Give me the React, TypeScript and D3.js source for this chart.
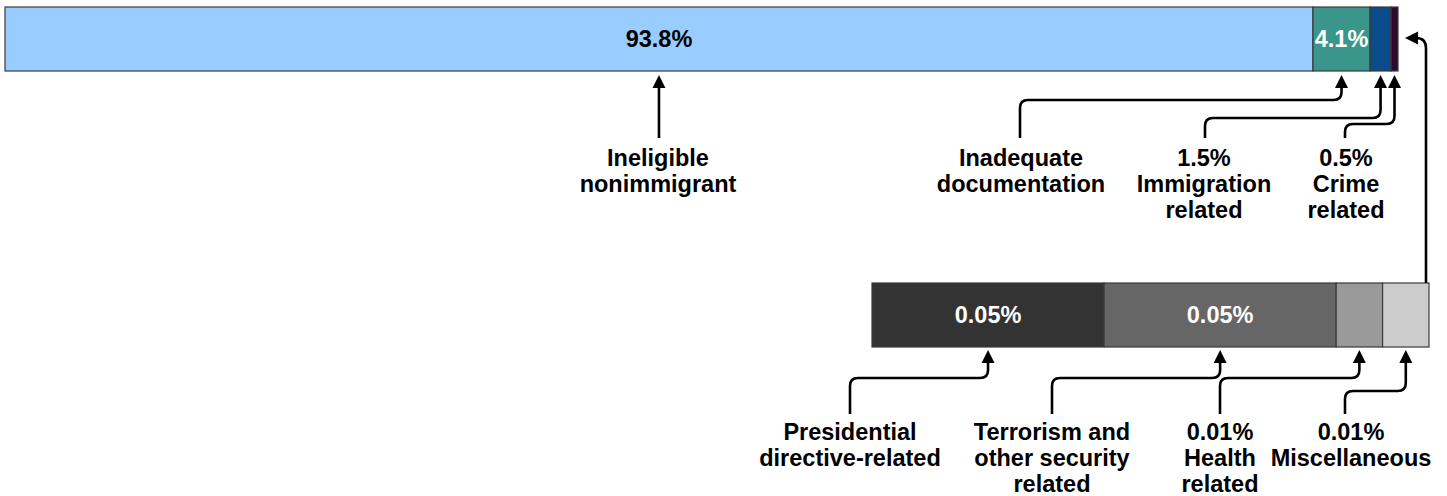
import React from "react";
import * as d3 from "d3";

// main bar: share of refusals by category (%)
const topCategories = ["Ineligible nonimmigrant", "Inadequate documentation", "Immigration related", "Crime related"];
const topValues = [93.8, 4.1, 1.5, 0.5];
const topColors = ["#99ccff", "#3a968a", "#0a4b8b", "#2e0a30"];
const topInBarLabels = ["93.8%", "4.1%", "", ""];

// breakdown bar: the remaining small categories (%)
const subCategories = ["Presidential directive-related", "Terrorism and other security related", "Health related", "Miscellaneous"];
const subValues = [0.05, 0.05, 0.01, 0.01];
const subColors = ["#333333", "#666666", "#999999", "#cccccc"];
const subInBarLabels = ["0.05%", "0.05%", "", ""];

// callout label lines
const topLabelLines = [
  ["Ineligible", "nonimmigrant"],
  ["Inadequate", "documentation"],
  ["1.5%", "Immigration", "related"],
  ["0.5%", "Crime", "related"],
];
const subLabelLines = [
  ["Presidential", "directive-related"],
  ["Terrorism and", "other security", "related"],
  ["0.01%", "Health", "related"],
  ["0.01%", "Miscellaneous"],
];

const W = 1447;
const H = 496;
const FONT = "'Liberation Sans', Arial, sans-serif";

const topBar = { x0: 5, x1: 1398, y: 7, h: 64 };
const subBar = { x0: 872, x1: 1429, y: 283, h: 64 };

// label layout: text center x, connector start x, elbow y
const topCallouts = [
  { cx: 658, sx: null as number | null, ym: 0 },
  { cx: 1021, sx: 1020, ym: 100 },
  { cx: 1204, sx: 1205, ym: 118 },
  { cx: 1346, sx: 1345, ym: 124 },
];
const subCallouts = [
  { cx: 850, sx: 850, ym: 378 },
  { cx: 1052, sx: 1052, ym: 378 },
  { cx: 1220, sx: 1220, ym: 378 },
  { cx: 1351, sx: 1345, ym: 391 },
];

const ARROW = 12;
const R = 8;

function elbow(sx: number, sy: number, ym: number, tx: number, ty: number) {
  const p = d3.path();
  const dir = tx >= sx ? 1 : -1;
  p.moveTo(sx, sy);
  if (Math.abs(tx - sx) < 1) {
    p.lineTo(sx, ty + ARROW);
    return p.toString();
  }
  p.lineTo(sx, ym + R);
  p.quadraticCurveTo(sx, ym, sx + dir * R, ym);
  p.lineTo(tx - dir * R, ym);
  p.quadraticCurveTo(tx, ym, tx, ym - R);
  p.lineTo(tx, ty + ARROW);
  return p.toString();
}

function upHead(x: number, y: number) {
  return `M${x},${y}L${x - 6.5},${y + ARROW + 1}L${x + 6.5},${y + ARROW + 1}Z`;
}

function stack(values: number[]) {
  let acc = 0;
  return values.map((v) => {
    const s = acc;
    acc += v;
    return [s, acc];
  });
}

export default function App() {
  const xTop = d3.scaleLinear().domain([0, d3.sum(topValues)]).range([topBar.x0, topBar.x1]);
  const xSub = d3.scaleLinear().domain([0, d3.sum(subValues)]).range([subBar.x0, subBar.x1]);
  const topStack = stack(topValues);
  const subStack = stack(subValues);

  const topTipY = topBar.y + topBar.h + 4;
  const subTipY = subBar.y + subBar.h + 3;
  const lineGap = 26;

  const label = (lines: string[], cx: number, y0: number, key: string) => (
    <text key={key} x={cx} textAnchor="middle" fontFamily={FONT} fontWeight="bold" fontSize={23.5} fill="#000">
      {lines.map((l, i) => (
        <tspan key={i} x={cx} y={y0 + i * lineGap} dy="0.35em">
          {l}
        </tspan>
      ))}
    </text>
  );

  const sideX = subBar.x1 - 3;
  const sideY = 38;

  return (
    <div style={{ position: "absolute", left: 0, top: 0, width: W, height: H, background: "#fff" }}>
      <svg width={W} height={H} viewBox={`0 0 ${W} ${H}`} style={{ display: "block" }}>
        {/* main bar */}
        {topStack.map(([a, b], i) => (
          <rect
            key={topCategories[i]}
            x={xTop(a)}
            y={topBar.y}
            width={xTop(b) - xTop(a)}
            height={topBar.h}
            fill={topColors[i]}
            stroke="#3a3a3a"
            strokeWidth={1.2}
          />
        ))}
        {topStack.map(([a, b], i) =>
          topInBarLabels[i] ? (
            <text
              key={"tl" + i}
              x={(xTop(a) + xTop(b)) / 2}
              y={topBar.y + topBar.h / 2}
              dy="0.35em"
              textAnchor="middle"
              fontFamily={FONT}
              fontWeight="bold"
              fontSize={23.5}
              fill={i === 0 ? "#000" : "#fff"}
            >
              {topInBarLabels[i]}
            </text>
          ) : null
        )}

        {/* breakdown bar */}
        {subStack.map(([a, b], i) => (
          <rect
            key={subCategories[i]}
            x={xSub(a)}
            y={subBar.y}
            width={xSub(b) - xSub(a)}
            height={subBar.h}
            fill={subColors[i]}
            stroke="#3a3a3a"
            strokeWidth={1.2}
          />
        ))}
        {subStack.map(([a, b], i) =>
          subInBarLabels[i] ? (
            <text
              key={"sl" + i}
              x={(xSub(a) + xSub(b)) / 2}
              y={subBar.y + subBar.h / 2}
              dy="0.35em"
              textAnchor="middle"
              fontFamily={FONT}
              fontWeight="bold"
              fontSize={23.5}
              fill="#fff"
            >
              {subInBarLabels[i]}
            </text>
          ) : null
        )}

        {/* callout connectors */}
        <g fill="none" stroke="#000" strokeWidth={2.6}>
          {topStack.map(([a, b], i) => {
            const tx = (xTop(a) + xTop(b)) / 2;
            const c = topCallouts[i];
            const sx = c.sx === null ? tx : c.sx;
            return <path key={"tc" + i} d={elbow(sx, 138, c.ym, tx, topTipY)} />;
          })}
          {subStack.map(([a, b], i) => {
            const tx = (xSub(a) + xSub(b)) / 2;
            const c = subCallouts[i];
            return <path key={"sc" + i} d={elbow(c.sx, 414, c.ym, tx, subTipY)} />;
          })}
          <path d={`M${sideX},${subBar.y}V${sideY + 10}Q${sideX},${sideY} ${sideX - 10},${sideY}H${topBar.x1 + 7 + ARROW}`} />
        </g>
        <g fill="#000">
          {topStack.map(([a, b], i) => (
            <path key={"th" + i} d={upHead((xTop(a) + xTop(b)) / 2, topTipY)} />
          ))}
          {subStack.map(([a, b], i) => (
            <path key={"sh" + i} d={upHead((xSub(a) + xSub(b)) / 2, subTipY)} />
          ))}
          <path
            d={`M${topBar.x1 + 7},${sideY}L${topBar.x1 + 8 + ARROW},${sideY - 6.5}L${topBar.x1 + 8 + ARROW},${sideY + 6.5}Z`}
          />
        </g>

        {topLabelLines.map((lines, i) => label(lines, topCallouts[i].cx, 158, "tlab" + i))}
        {subLabelLines.map((lines, i) => label(lines, subCallouts[i].cx, 432, "slab" + i))}
      </svg>
    </div>
  );
}
